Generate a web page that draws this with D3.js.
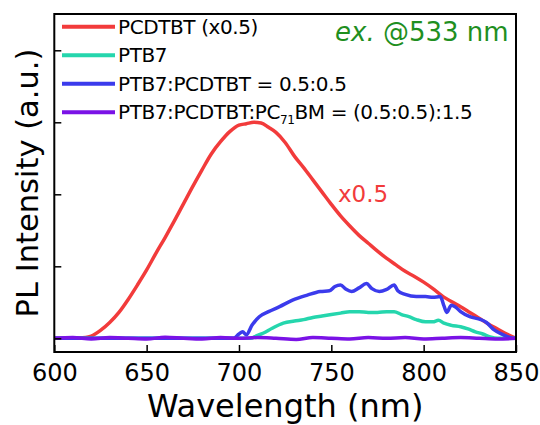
<!DOCTYPE html>
<html>
<head>
<meta charset="utf-8">
<title>PL spectra</title>
<script src="https://cdn.jsdelivr.net/npm/d3@7"></script>
<style>
  body { margin: 0; background: #fff; }
  svg text { font-family: "DejaVu Sans", sans-serif; fill: #000; }
</style>
</head>
<body>
<div id="chart"></div>
<script>
// series names + colours
var names = ["PCDTBT (x0.5)", "PTB7", "PTB7:PCDTBT = 0.5:0.5", "PTB7:PCDTBT:PC71BM = (0.5:0.5):1.5"];
var colors = ["#f23b3b", "#25d6ad", "#3b3bec", "#7a12e6"];
var xTicks = [600, 650, 700, 750, 800, 850];
var yTicks = [0, 1, 2, 3, 4];

// PCDTBT (scaled x0.5)
var redWl = [600, 610, 617, 620, 625, 630, 635, 640, 645, 650, 655, 660, 665, 670, 675, 680, 685, 690, 695, 700, 704, 708, 712, 716, 720, 725, 730, 735, 740, 745, 750, 755, 760, 765, 770, 775, 780, 785, 790, 795, 800, 805, 810, 815, 820, 825, 830, 835, 840, 845, 850];
var redPL = [0, 0, 0.01, 0.03, 0.11, 0.22, 0.36, 0.54, 0.74, 0.95, 1.18, 1.40, 1.63, 1.87, 2.11, 2.34, 2.56, 2.73, 2.87, 2.96, 2.98, 3.00, 2.99, 2.93, 2.86, 2.72, 2.53, 2.37, 2.20, 2.03, 1.86, 1.70, 1.56, 1.43, 1.32, 1.21, 1.11, 1.02, 0.93, 0.86, 0.78, 0.69, 0.59, 0.51, 0.44, 0.36, 0.28, 0.20, 0.13, 0.06, 0];

// PTB7
var tealWl = [600, 706, 710, 713, 718, 724, 730, 735, 740, 745, 750, 755, 760, 765, 770, 775, 780, 784, 788, 792, 796, 801, 805, 808, 811, 815, 820, 824, 828, 832, 836, 840, 850];
var tealPL = [0, 0, 0.04, 0.07, 0.14, 0.21, 0.24, 0.26, 0.29, 0.31, 0.33, 0.35, 0.37, 0.37, 0.36, 0.36, 0.37, 0.37, 0.33, 0.30, 0.26, 0.23, 0.23, 0.25, 0.21, 0.18, 0.16, 0.13, 0.09, 0.06, 0.02, 0, 0];

// PTB7:PCDTBT
var blueWl = [600, 697, 700, 702, 704, 707, 711, 716, 722, 729, 737, 744, 749, 752, 755, 758, 761, 765, 769, 772, 776, 780, 784, 786, 790, 796, 801, 805, 809, 811, 812.5, 815, 817, 820, 825, 831, 834, 838, 843, 847, 850];
var bluePL = [0, 0, 0.06, 0.09, 0.05, 0.18, 0.30, 0.37, 0.44, 0.53, 0.60, 0.65, 0.66, 0.72, 0.74, 0.68, 0.65, 0.70, 0.76, 0.69, 0.65, 0.68, 0.74, 0.66, 0.61, 0.58, 0.58, 0.57, 0.58, 0.45, 0.36, 0.46, 0.44, 0.37, 0.30, 0.26, 0.22, 0.12, 0.05, 0.01, 0];

// PTB7:PCDTBT:PC71BM (quenched)
var purpleWl = [600, 610, 620, 630, 640, 650, 660, 670, 680, 690, 700, 710, 720, 731, 740, 750, 760, 770, 780, 790, 800, 810, 820, 830, 840, 850];
var purplePL = [0, 0.01, -0.01, 0.01, 0, -0.01, 0.015, 0, -0.01, 0.01, 0, 0.01, 0, -0.015, 0.01, 0, -0.01, 0.01, 0, 0.01, -0.01, 0, 0.01, 0, -0.01, 0];

var series = [
  { wl: redWl, pl: redPL },
  { wl: tealWl, pl: tealPL },
  { wl: blueWl, pl: bluePL },
  { wl: purpleWl, pl: purplePL }
];

var W = 540, H = 425;
var mLeft = 54.3, mRight = 516, mTop = 14, mBottom = 352;

var svg = d3.select("#chart").append("svg")
  .attr("width", W).attr("height", H);

var x = d3.scaleLinear().domain([600, 850]).range([mLeft, mRight]);
var y = d3.scaleLinear().domain([-0.19, 4.504]).range([mBottom, mTop]);

var line = d3.line()
  .curve(d3.curveMonotoneX)
  .x(function(d) { return x(d[0]); })
  .y(function(d) { return y(d[1]); });

series.forEach(function(s, i) {
  svg.append("path")
    .datum(s.wl.map(function(w, j) { return [w, s.pl[j]]; }))
    .attr("d", line)
    .attr("fill", "none")
    .attr("stroke", colors[i])
    .attr("stroke-width", 3.5)
    .attr("stroke-linejoin", "round");
});

// axes, ticks pointing inward
var xAxis = svg.append("g")
  .attr("transform", "translate(0," + mBottom + ")")
  .call(d3.axisBottom(x).tickValues(xTicks).tickSizeInner(-7).tickSizeOuter(0).tickPadding(12));
xAxis.select(".domain").remove();
xAxis.selectAll("line").attr("stroke", "#000").attr("stroke-width", 1.5);
xAxis.selectAll("text").style("font-size", "24px").attr("fill", "#000");

var yAxis = svg.append("g")
  .attr("transform", "translate(" + mLeft + ",0)")
  .call(d3.axisLeft(y).tickValues(yTicks).tickSizeInner(-7).tickSizeOuter(0).tickFormat(""));
yAxis.select(".domain").remove();
yAxis.selectAll("line").attr("stroke", "#000").attr("stroke-width", 1.5);

svg.append("rect")
  .attr("x", mLeft).attr("y", mTop)
  .attr("width", mRight - mLeft).attr("height", mBottom - mTop)
  .attr("fill", "none").attr("stroke", "#000").attr("stroke-width", 2);

// axis titles
svg.append("text")
  .attr("x", (mLeft + mRight) / 2).attr("y", 416.5)
  .attr("text-anchor", "middle")
  .style("font-size", "32px")
  .text("Wavelength (nm)");

svg.append("text")
  .attr("transform", "translate(37.5," + ((mTop + mBottom) / 2) + ") rotate(-90)")
  .attr("text-anchor", "middle")
  .style("font-size", "30.5px")
  .text("PL Intensity (a.u.)");

// legend
var leg = svg.append("g");
names.forEach(function(n, i) {
  var ly = 26.7 + i * 28.5;
  leg.append("line")
    .attr("x1", 62).attr("x2", 115)
    .attr("y1", ly).attr("y2", ly)
    .attr("stroke", colors[i]).attr("stroke-width", 4);
  var t = leg.append("text")
    .attr("x", 118).attr("y", ly + 7)
    .style("font-size", "20px")
    .style("letter-spacing", "-0.4px");
  if (n.indexOf("PC71BM") >= 0) {
    var parts = n.split("71");
    t.append("tspan").text(parts[0]);
    t.append("tspan").attr("dy", 5).style("font-size", "12px").text("71");
    t.append("tspan").attr("dy", -5).text(parts[1]);
  } else {
    t.text(n);
  }
});

// annotations
var ex = svg.append("text")
  .attr("x", 335).attr("y", 41)
  .style("font-size", "26px")
  .style("fill", "#1f8f1f");
ex.append("tspan").style("font-style", "italic").style("fill", "#1f8f1f").text("ex.");
ex.append("tspan").style("fill", "#1f8f1f").text(" @533 nm");

svg.append("text")
  .attr("x", 338).attr("y", 201.5)
  .style("font-size", "23px")
  .style("fill", colors[0])
  .text("x0.5");
</script>
</body>
</html>
